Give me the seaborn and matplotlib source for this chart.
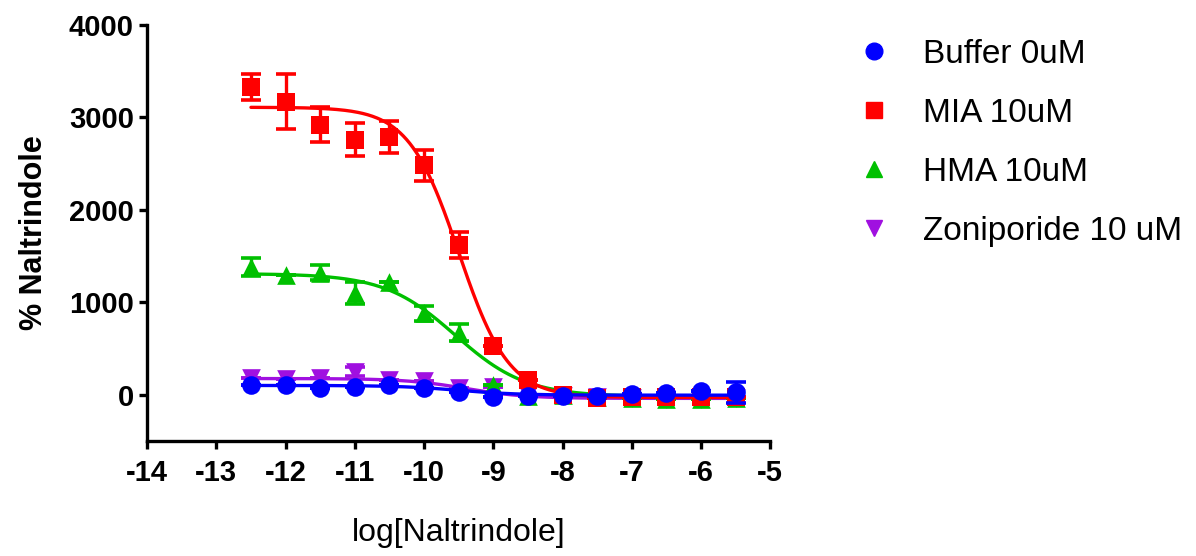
import numpy as np
import pandas as pd
import matplotlib
matplotlib.use("Agg")
import matplotlib.pyplot as plt
from matplotlib.lines import Line2D
import seaborn as sns

# ==========================================
# DATA
# ==========================================

log_conc = [-12.5, -12.0, -11.5, -11.0, -10.5, -10.0, -9.5, -9.0,
            -8.5, -8.0, -7.5, -7.0, -6.5, -6.0, -5.5]

buffer_mean = [110, 110, 75, 80, 105, 75, 30, -20, -10, -10, -10, 10, 20, 35, 25]
buffer_err = [0, 0, 0, 0, 0, 0, 0, 0, 0, 0, 0, 0, 0, 0, 110]

mia_mean = [3330, 3170, 2920, 2760, 2790, 2480, 1620, 530, 160, 0, -40, -20, -20, -30, -20]
mia_err = [140, 300, 190, 180, 170, 170, 145, 0, 0, 0, 0, 0, 0, 0, 0]

hma_mean = [1380, 1300, 1320, 1100, 1220, 880, 670, 110, -10, 0, -20, -40, -50, -50, -40]
hma_err = [100, 0, 80, 120, 0, 80, 90, 0, 0, 0, 0, 0, 0, 0, 0]

zon_mean = [180, 175, 180, 250, 160, 150, 70, 80, 0, -10, -30, -40, -50, -50, -40]
zon_err = [0, 0, 0, 50, 0, 0, 0, 0, 0, 0, 0, 0, 0, 0, 0]

# 4PL fit parameters: top, bottom, logIC50, hill slope
buffer_fit = [100, -5, -9.5, 1.0]
mia_fit = [3110, -30, -9.5, 1.2]
hma_fit = [1310, -20, -9.55, 0.85]
zon_fit = [175, -40, -9.4, 1.0]

labels = ["Buffer 0uM", "MIA 10uM", "HMA 10uM", "Zoniporide 10 uM"]
colors = ["#0000ff", "#ff0000", "#00c000", "#a010e0"]
markers = ["o", "s", "^", "v"]


def four_pl(x, top, bottom, logic50, hill):
    return bottom + (top - bottom) / (1 + 10 ** ((x - logic50) * hill))


# ==========================================
# PLOT
# ==========================================

sns.set_style("ticks")
plt.rcParams["font.family"] = ["Liberation Sans", "DejaVu Sans"]
plt.rcParams["axes.unicode_minus"] = False
plt.rcParams["text.color"] = "black"
plt.rcParams["axes.labelcolor"] = "black"

fig = plt.figure(figsize=(11.96, 5.56), dpi=100)
ax = fig.add_axes([0.123, 0.207, 0.521, 0.748])

series = [
    (buffer_mean, buffer_err, buffer_fit, 5),
    (mia_mean, mia_err, mia_fit, 4),
    (hma_mean, hma_err, hma_fit, 3),
    (zon_mean, zon_err, zon_fit, 2),
]

x_fit = np.linspace(-12.5, -5.5, 300)

for i, (mean, err, fit, z) in enumerate(series):
    df = pd.DataFrame({"x": log_conc, "y": mean})
    fit_df = pd.DataFrame({"x": x_fit, "y": four_pl(x_fit, *fit)})

    sns.lineplot(data=fit_df, x="x", y="y", color=colors[i],
                 linewidth=2.4, ax=ax, zorder=z)
    ax.errorbar(log_conc, mean, yerr=err, fmt="none",
                ecolor=colors[i], elinewidth=2.4, capsize=7,
                capthick=2.6, zorder=z)
    sns.scatterplot(data=df, x="x", y="y", color=colors[i],
                    marker=markers[i], s=180, linewidth=0,
                    ax=ax, zorder=z + 0.5)

ax.set_xlim(-14, -5)
ax.set_ylim(-500, 4000)
ax.set_xticks(range(-14, -4))
ax.set_yticks([0, 1000, 2000, 3000, 4000])

for side in ["top", "right"]:
    ax.spines[side].set_visible(False)
for side in ["left", "bottom"]:
    ax.spines[side].set_linewidth(2.4)
    ax.spines[side].set_color("black")

ax.tick_params(axis="both", direction="out", length=6, width=2.4,
               labelsize=21, colors="black")
ax.tick_params(axis="x", pad=7)
for lab in ax.get_xticklabels() + ax.get_yticklabels():
    lab.set_fontweight("bold")

ax.set_xlabel("log[Naltrindole]", fontsize=23, labelpad=22)
ax.set_ylabel("% Naltrindole", fontsize=22, fontweight="bold", labelpad=14)

handles = [
    Line2D([], [], linestyle="none", marker=markers[i], color=colors[i],
           markersize=12)
    for i in range(4)
]
fig.legend(handles, labels, loc="upper left",
           bbox_to_anchor=(0.717, 0.93), frameon=False, fontsize=24,
           handlelength=1.0, handletextpad=0.95, labelspacing=0.84,
           borderpad=0, borderaxespad=0)

fig.savefig("out.png", dpi=100)
